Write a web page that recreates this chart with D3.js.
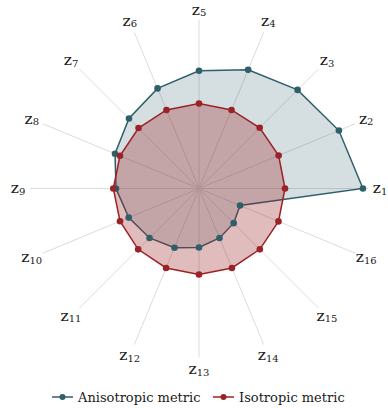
<!DOCTYPE html>
<html>
<head>
<meta charset="utf-8">
<script src="https://cdn.jsdelivr.net/npm/d3@7"></script>
<style>
  html, body { margin: 0; padding: 0; background: #fff; }
  svg { display: block; }
</style>
</head>
<body>
<svg id="chart" width="388" height="408"></svg>
<script>
const axes = ["1","2","3","4","5","6","7","8","9","10","11","12","13","14","15","16"];
const anisotropic = [0.970, 0.896, 0.825, 0.760, 0.697, 0.641, 0.586, 0.538, 0.491, 0.450, 0.414, 0.379, 0.349, 0.317, 0.290, 0.263];
const isotropic   = [0.509, 0.510, 0.508, 0.503, 0.503, 0.503, 0.506, 0.506, 0.507, 0.506, 0.509, 0.509, 0.509, 0.509, 0.509, 0.509];
const seriesNames = ["Anisotropic metric", "Isotropic metric"];
const seriesColors = ["#2f5f6b", "#9b2226"];
const fillOpacity = [0.2, 0.3];

const svg = d3.select("#chart");
const cx = 199, cy = 188.5, R = 169, labelR = 181;

const r = d3.scaleLinear().domain([0, 1]).range([0, R]);
const angle = d3.scaleLinear().domain([0, axes.length]).range([0, -2 * Math.PI]);
const px = (i, v) => cx + r(v) * Math.cos(angle(i));
const py = (i, v) => cy + r(v) * Math.sin(angle(i));

const g = svg.append("g");

// spokes
g.selectAll("line.spoke").data(axes).join("line")
  .attr("class", "spoke")
  .attr("x1", cx).attr("y1", cy)
  .attr("x2", (d, i) => px(i, 1)).attr("y2", (d, i) => py(i, 1))
  .attr("stroke", "#dcdcdc").attr("stroke-width", 1);

// labels
const lab = g.selectAll("text.axis").data(axes).join("text")
  .attr("class", "axis")
  .attr("x", (d, i) => cx + labelR * Math.cos(angle(i)))
  .attr("y", (d, i) => Math.max(14.5, cy + labelR * Math.sin(angle(i)) + 4.5))
  .attr("text-anchor", "middle")
  .attr("font-family", "DejaVu Serif")
  .attr("font-size", 15.5)
  .attr("fill", "#1a1a1a");
lab.append("tspan").text("z");
lab.append("tspan").attr("font-size", 10).attr("dy", 1.5).text(d => d);

const line = d3.lineRadial().angle((d, i) => angle(i) + Math.PI / 2).radius(d => r(d)).curve(d3.curveLinearClosed);

const allSeries = [anisotropic, isotropic];
allSeries.forEach((vals, s) => {
  g.append("path").datum(vals)
    .attr("transform", `translate(${cx},${cy})`)
    .attr("d", line)
    .attr("fill", seriesColors[s]).attr("fill-opacity", fillOpacity[s])
    .attr("stroke", seriesColors[s]).attr("stroke-width", 1.5);
});
allSeries.forEach((vals, s) => {
  g.selectAll(null).data(vals).join("circle")
    .attr("cx", (d, i) => px(i, d)).attr("cy", (d, i) => py(i, d))
    .attr("r", 3.3).attr("fill", seriesColors[s]);
});

// legend
const legend = svg.append("g");
const lx = [52, 213];
seriesNames.forEach((n, s) => {
  const lg = legend.append("g").attr("transform", `translate(${lx[s]},397)`);
  lg.append("line").attr("x1", 0).attr("x2", 21).attr("y1", 0).attr("y2", 0)
    .attr("stroke", seriesColors[s]).attr("stroke-width", 1.5);
  lg.append("circle").attr("cx", 10.5).attr("cy", 0).attr("r", 3).attr("fill", seriesColors[s]);
  lg.append("text").attr("x", 26).attr("y", 4.5)
    .attr("font-family", "DejaVu Serif").attr("font-size", 13).attr("fill", "#1a1a1a").text(n);
});
</script>
</body>
</html>
